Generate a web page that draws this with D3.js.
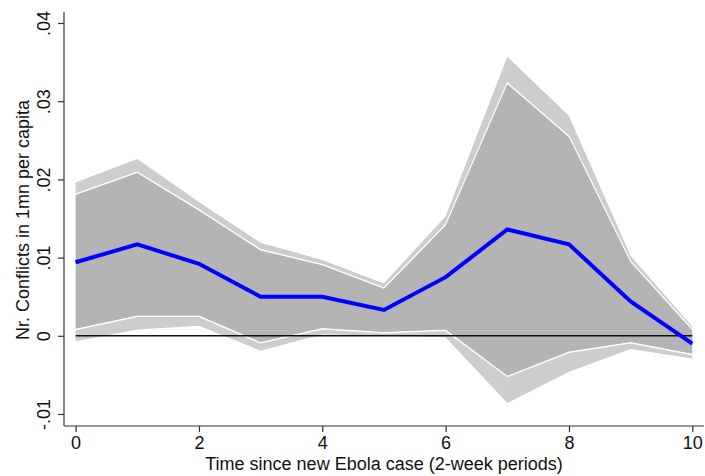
<!DOCTYPE html>
<html>
<head>
<meta charset="utf-8">
<script src="https://cdn.jsdelivr.net/npm/d3@7"></script>
<style>
  body { margin: 0; background: #fff; }
  text { font-family: "Liberation Sans", Arial, Helvetica, sans-serif; }
</style>
</head>
<body>
<script>
// periods since new Ebola case
const periods = [0, 1, 2, 3, 4, 5, 6, 7, 8, 9, 10];
// point estimate
const estimate = [0.0094, 0.0117, 0.0092, 0.0050, 0.0050, 0.0033, 0.0075, 0.0136, 0.0117, 0.0044, -0.0010];
// inner band (white outlined)
const innerHi = [0.0181, 0.0209, 0.0161, 0.0110, 0.0091, 0.0061, 0.0142, 0.0323, 0.0255, 0.0095, 0.0008];
const innerLo = [0.0008, 0.0025, 0.0025, -0.0009, 0.0009, 0.0004, 0.0007, -0.0052, -0.0021, -0.0009, -0.0024];
// outer band
const outerHi = [0.0196, 0.0226, 0.0171, 0.0119, 0.0097, 0.0067, 0.0153, 0.0357, 0.0281, 0.0102, 0.0012];
const outerLo = [-0.0007, 0.0008, 0.0013, -0.0019, 0.0002, 0.0000, -0.0002, -0.0086, -0.0046, -0.0017, -0.0029];

const xTicks = [0, 2, 4, 6, 8, 10];
const yTicks = [-0.01, 0, 0.01, 0.02, 0.03, 0.04];
const yTickLabels = ["-.01", "0", ".01", ".02", ".03", ".04"];

const width = 705;
const height = 476;

const svg = d3.select("body")
  .append("svg")
  .attr("width", width)
  .attr("height", height);

const x = d3.scaleLinear()
  .domain([0, 10])
  .range([75.6, 692.3]);

const y = d3.scaleLinear()
  .domain([-0.01, 0.04])
  .range([414, 23]);

const rows = periods.map((p, i) => ({
  p: p, est: estimate[i],
  ih: innerHi[i], il: innerLo[i],
  oh: outerHi[i], ol: outerLo[i]
}));

// outer band
svg.append("path")
  .datum(rows)
  .attr("fill", "#cdcdcd")
  .attr("d", d3.area()
    .x(d => x(d.p))
    .y0(d => y(d.ol))
    .y1(d => y(d.oh)));

// inner band with white outline
svg.append("path")
  .datum(rows)
  .attr("fill", "#b4b4b4")
  .attr("stroke", "#fff")
  .attr("stroke-width", 1.5)
  .attr("d", d3.area()
    .x(d => x(d.p))
    .y0(d => y(d.il))
    .y1(d => y(d.ih)));

// cover the vertical edges of the outline
svg.append("path")
  .datum(rows)
  .attr("fill", "#b4b4b4")
  .attr("d", d3.area()
    .x(d => x(d.p))
    .y0(d => y(d.il) - 1)
    .y1(d => y(d.ih) + 1));

// zero line
svg.append("line")
  .attr("x1", x(0))
  .attr("x2", x(10))
  .attr("y1", y(0))
  .attr("y2", y(0))
  .attr("stroke", "#111")
  .attr("stroke-width", 1.6);

// estimate line
svg.append("path")
  .datum(rows)
  .attr("fill", "none")
  .attr("stroke", "#0000ff")
  .attr("stroke-width", 4)
  .attr("d", d3.line()
    .x(d => x(d.p))
    .y(d => y(d.est)));

// axes
const xAxis = svg.append("g")
  .attr("transform", "translate(0,426)")
  .call(d3.axisBottom(x).tickValues(xTicks).tickSize(6).tickPadding(4).tickSizeOuter(0));
xAxis.select(".domain").attr("d", "M64,0H704");

const yAxis = svg.append("g")
  .attr("transform", "translate(64,0)")
  .call(d3.axisLeft(y).tickValues(yTicks).tickSize(6).tickSizeOuter(0)
    .tickFormat((d, i) => yTickLabels[i]));
yAxis.select(".domain").attr("d", "M0,12V426");

svg.selectAll(".domain").attr("stroke", "#333").attr("stroke-width", 1.2);
svg.selectAll(".tick line").attr("stroke", "#333").attr("stroke-width", 1.2);
svg.selectAll(".tick text").attr("fill", "#111").style("font-size", "18px");

xAxis.selectAll(".tick text").attr("dy", "0.71em");

yAxis.selectAll(".tick text")
  .attr("x", null)
  .attr("dy", null)
  .attr("text-anchor", "middle")
  .attr("transform", "translate(-14,0) rotate(-90)");

svg.append("text")
  .attr("x", 384)
  .attr("y", 470)
  .attr("text-anchor", "middle")
  .attr("fill", "#111")
  .style("font-size", "18px")
  .text("Time since new Ebola case (2-week periods)");

svg.append("text")
  .attr("transform", "translate(29,220) rotate(-90)")
  .attr("text-anchor", "middle")
  .attr("fill", "#111")
  .style("font-size", "18px")
  .text("Nr. Conflicts in 1mn per capita");
</script>
</body>
</html>
